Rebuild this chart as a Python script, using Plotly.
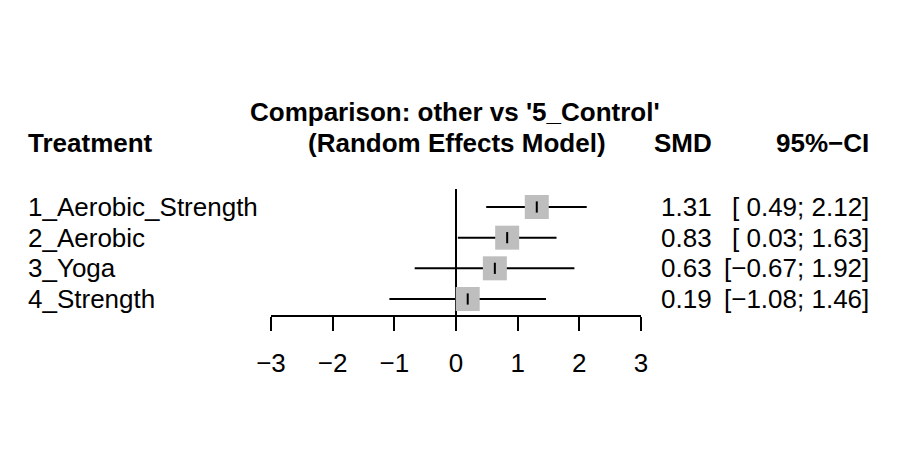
import plotly.graph_objects as go

# ---- data ----
treatments = ["1_Aerobic_Strength", "2_Aerobic", "3_Yoga", "4_Strength"]
smd = [1.31, 0.83, 0.63, 0.19]
ci_lower = [0.49, 0.03, -0.67, -1.08]
ci_upper = [2.12, 1.63, 1.92, 1.46]
tick_vals = [-3, -2, -1, 0, 1, 2, 3]

W, H = 908, 475
OX, OY = 8, 8          # page body margin offset
FONT = "Liberation Sans, Arial, sans-serif"
FS = 26

def fmt(v):
    s = f"{abs(v):.2f}"
    return ("\u2212" + s) if v < 0 else s

def fmt_ci(lo, hi):
    a = fmt(lo)
    if lo >= 0:
        a = " " + a
    return f"[{a}; {fmt(hi)}]"

rows = list(range(len(treatments)))

fig = go.Figure()
# CI lines (error bars) + grey squares
fig.add_trace(go.Scatter(
    x=smd, y=rows, mode="markers",
    marker=dict(symbol="square", size=24, color="#BEBEBE", line=dict(width=0)),
    error_x=dict(type="data", symmetric=False,
                 array=[u - e for u, e in zip(ci_upper, smd)],
                 arrayminus=[e - l for e, l in zip(smd, ci_lower)],
                 width=0, thickness=2, color="black"),
    cliponaxis=False, hoverinfo="skip", showlegend=False))
# point estimate tick
fig.add_trace(go.Scatter(
    x=smd, y=rows, mode="markers",
    marker=dict(symbol="line-ns", size=8, line=dict(width=2, color="black")),
    cliponaxis=False, hoverinfo="skip", showlegend=False))

def px(x):
    return (x - OX) / W

def py(y):
    return 1 - (y - OY) / H

ann = []
def add(text, x, y, xanchor="left", bold=False):
    if bold:
        text = "<b>" + text + "</b>"
    if xanchor == "left":
        x -= 2
    elif xanchor == "right":
        x += 3
    ann.append(dict(text=text, x=px(x), y=py(y), xref="paper", yref="paper",
                    xanchor=xanchor, yanchor="middle", showarrow=False,
                    font=dict(family=FONT, size=FS, color="black")))

row_y = [207, 238, 268, 299]
add("Comparison: other vs '5_Control'", 455, 112, "center", True)
add("(Random Effects Model)", 457, 143, "center", True)
add("Treatment", 28, 143, "left", True)
add("SMD", 711, 143, "right", True)
add("95%\u2212CI", 868, 143, "right", True)
for i, t in enumerate(treatments):
    add(t, 28, row_y[i], "left")
    add(fmt(smd[i]), 711, row_y[i], "right")
    add(fmt_ci(ci_lower[i], ci_upper[i]), 868, row_y[i], "right")

# plot area: x from px 271 to 641, y from px 189 to 315
y_top_px, y_bot_px = 189, 315
step = (row_y[-1] - row_y[0]) / 3
y_top = (y_top_px - row_y[0]) / step
y_bot = (y_bot_px - row_y[0]) / step

fig.update_layout(
    width=W, height=H, autosize=False,
    margin=dict(l=0, r=0, t=0, b=0, pad=0, autoexpand=False),
    paper_bgcolor="white", plot_bgcolor="white",
    annotations=ann,
    xaxis=dict(domain=[(271 - OX) / W, (641 - OX) / W], range=[-3, 3], automargin=False,
               tickvals=tick_vals,
               ticktext=[fmt(v).replace(".00", "") for v in tick_vals],
               showgrid=False, zeroline=True, zerolinecolor="black", zerolinewidth=2,
               showline=True, linecolor="black", linewidth=2,
               ticks="outside", ticklen=14, tickwidth=2, tickcolor="black",
               ticklabelstandoff=10,
               tickfont=dict(family=FONT, size=FS, color="black")),
    yaxis=dict(domain=[1 - (y_bot_px - OY) / H, 1 - (y_top_px - OY) / H], range=[y_bot, y_top],
               visible=False, showgrid=False, zeroline=False, automargin=False),
)

fig.write_html("out.html")
